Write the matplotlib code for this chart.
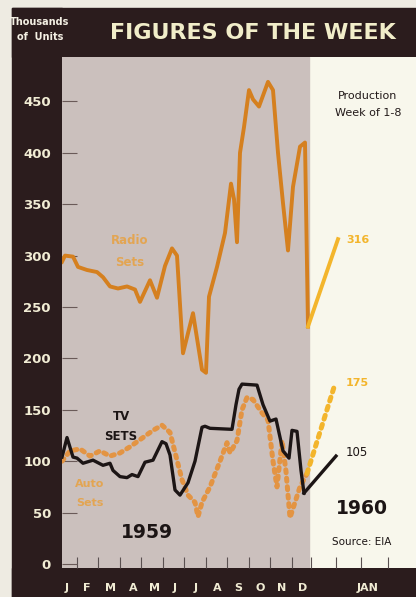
import matplotlib
matplotlib.use("Agg")
import matplotlib.pyplot as plt
from matplotlib.patches import Rectangle

# ========== Data (thousands of units, x = week number from Jan 1959) ==========
radio_weeks = [1, 1.6, 3.2, 4.2, 6, 8, 9.2, 10.6, 12.2, 14, 15.6, 16.6, 18.6, 20,
               21.6, 23, 24, 25.2, 27.2, 29, 29.8, 30.4, 32, 33.6, 34.8, 35.4, 36,
               36.6, 37.4, 38.4, 39.2, 40.4, 42.2, 43.2, 44.2, 45.2, 46.2, 47.2,
               48.6, 49.6, 50.2]
radio_vals = [294, 300, 299, 289, 286, 284, 279, 270, 268, 270, 267, 255, 276, 259,
              290, 307, 300, 205, 244, 189, 186, 260, 289, 322, 370, 355, 313,
              400, 425, 461, 452, 445, 469, 461, 400, 351, 305, 367,
              406, 410, 231]

tv_weeks = [1, 2, 3.2, 4, 5.2, 7.2, 9.2, 10.6, 11.2, 12.6, 14, 15, 16.2, 17.6, 19.2,
            21, 21.8, 22.6, 23.6, 24.6, 26.2, 27.6, 29, 29.6, 30.6, 35, 35.8, 36.4,
            37, 40, 41.2, 42.6, 43.8, 45.2, 46.4, 47, 48, 48.8, 49.4]
tv_vals = [104, 123, 104, 103, 98, 101, 96, 98, 91, 85, 84, 87, 85, 99, 101,
           119, 117, 106, 72, 67, 79, 100, 133, 134, 132, 131, 155, 170,
           175, 174, 155, 139, 141, 110, 103, 130, 129, 91, 69]

auto_weeks = [1, 2.6, 4.6, 6.6, 8.6, 10.6, 12.6, 14.6, 17.2, 19.2, 21, 22.6, 24, 25,
              26.2, 27.6, 28.2, 29, 30.6, 32.6, 34, 34.6, 36, 37, 38, 39.2, 41, 42.2,
              43.2, 44, 45, 45.8, 46.6, 48.6, 50]
auto_vals = [100, 110, 112, 105, 110, 105, 108, 114, 123, 130, 135, 128, 101, 82,
             67, 60, 46, 60, 75, 100, 118, 108, 120, 150, 162, 160, 147, 140,
             100, 75, 120, 90, 45, 75, 88]

# 1960 production week of 1-8
radio_1960 = 316
tv_1960 = 105
auto_1960 = 175
week_1960 = {"radio": 56.2, "tv": 55.8, "auto": 55.6}

month_labels = ["J", "F", "M", "A", "M", "J", "J", "A", "S", "O", "N", "D", "JAN"]
month_label_weeks = [2, 6, 10.6, 15.2, 19.6, 23.6, 27.8, 32, 36.2, 40.6, 45, 49.2, 62.2]
tick_weeks = [3.9, 8.2, 12.5, 16.8, 21.1, 25.4, 29.7, 34, 38.3, 42.6, 46.9, 50.8,
              55.8, 60.8, 66.2]
y_ticks = [0, 50, 100, 150, 200, 250, 300, 350, 400, 450]

# ========== Colours ==========
dark = "#2b1c1d"
cream = "#f8f7ec"
photo_grey = "#cbc0bd"
label_cream = "#f1ecd4"
radio_col = "#d5801f"
auto_col = "#e39443"
new_col = "#f3b52c"

W, H = 416, 597
fig = plt.figure(figsize=(W / 100, H / 100), dpi=100, facecolor="#eeebe2")


def fx(x):
    return x / W


def fy(y):
    return 1 - y / H


# dark frame: left bar, top banner, bottom band
for (x0, y0, x1, y1) in [(12, 8, 62, 597), (12, 8, 416, 57), (12, 568, 416, 597)]:
    fig.add_artist(Rectangle((fx(x0), fy(y1)), fx(x1) - fx(x0), fy(y0) - fy(y1),
                             transform=fig.transFigure, color=dark, zorder=-1))

ax = fig.add_axes([fx(62), fy(568), fx(416) - fx(62), fy(57) - fy(568)])
ax.set_facecolor(cream)
ax.set_xlim(1, 71.8)
ax.set_ylim(-3.9, 493.2)
for s in ax.spines.values():
    s.set_visible(False)

# grey "photo" panel for 1959
ax.axvspan(1, 50.4, color=photo_grey, zorder=0)

# ========== Series ==========
ax.plot(radio_weeks, radio_vals, color=radio_col, lw=2.8, solid_joinstyle="round", zorder=3)
ax.plot([radio_weeks[-1], week_1960["radio"]], [radio_vals[-1], radio_1960],
        color=new_col, lw=2.8, zorder=3)

ax.plot(auto_weeks, auto_vals, color=auto_col, lw=3.6, linestyle=(0, (0.6, 1.1)),
        dash_capstyle="round", zorder=2)
ax.plot([auto_weeks[-1], week_1960["auto"]], [auto_vals[-1], auto_1960],
        color=new_col, lw=3.6, linestyle=(0, (0.8, 1.1)), dash_capstyle="round", zorder=2)

ax.plot(tv_weeks, tv_vals, color="#1c1515", lw=2.4, zorder=4)
ax.plot([tv_weeks[-1], week_1960["tv"]], [tv_vals[-1], tv_1960],
        color="#1c1515", lw=2.4, zorder=4)

# ========== Axes ticks ==========
ax.set_yticks(y_ticks)
ax.set_yticklabels([str(v) for v in y_ticks])
ax.tick_params(axis="y", direction="in", length=11, width=0.8, color="#6a5a58",
               pad=8, labelsize=9.5, labelcolor=label_cream)
for t in ax.get_yticklabels():
    t.set_fontweight("bold")

ax.set_xticks(month_label_weeks)
ax.set_xticklabels(month_labels)
ax.set_xticks(tick_weeks, minor=True)
ax.tick_params(axis="x", which="major", length=0, pad=11, labelsize=8,
               labelcolor=label_cream)
ax.tick_params(axis="x", which="minor", direction="in", length=8, width=0.8,
               color="#5a5050")
for t in ax.get_xticklabels():
    t.set_fontweight("bold")

# ========== Texts ==========
fig.text(fx(253), fy(33), "FIGURES OF THE WEEK", color="#f1edc9", fontsize=16,
         fontweight="bold", ha="center", va="center")
fig.text(fx(40), fy(22), "Thousands", color="#f4f0e4", fontsize=7, fontweight="bold",
         ha="center", va="center")
fig.text(fx(40), fy(37), "of  Units", color="#f4f0e4", fontsize=7, fontweight="bold",
         ha="center", va="center")

fig.text(fx(368), fy(96), "Production", fontsize=8, ha="center", va="center", color="#231a1a")
fig.text(fx(368), fy(113), "Week of 1-8", fontsize=8, ha="center", va="center", color="#231a1a")

fig.text(fx(130), fy(241), "Radio", fontsize=8.5, fontweight="bold", color="#e3a552",
         ha="center", va="center")
fig.text(fx(130), fy(263), "Sets", fontsize=8.5, fontweight="bold", color="#e3a552",
         ha="center", va="center")
fig.text(fx(121), fy(416), "TV", fontsize=8.5, fontweight="bold", color="#1c1515",
         ha="center", va="center")
fig.text(fx(121), fy(437), "SETS", fontsize=8.5, fontweight="bold", color="#1c1515",
         ha="center", va="center")
fig.text(fx(90), fy(484), "Auto", fontsize=8, fontweight="bold", color="#e3a552",
         ha="center", va="center")
fig.text(fx(90), fy(503), "Sets", fontsize=8, fontweight="bold", color="#e3a552",
         ha="center", va="center")

fig.text(fx(147), fy(532), "1959", fontsize=13.5, fontweight="bold", color="#1c1515",
         ha="center", va="center")
fig.text(fx(362), fy(509), "1960", fontsize=13.5, fontweight="bold", color="#1c1515",
         ha="center", va="center")
fig.text(fx(362), fy(542), "Source: EIA", fontsize=7.5, color="#1c1515",
         ha="center", va="center")

fig.text(fx(358), fy(240), str(radio_1960), fontsize=8, fontweight="bold", color=new_col,
         ha="center", va="center")
fig.text(fx(357), fy(383), str(auto_1960), fontsize=8, fontweight="bold", color=new_col,
         ha="center", va="center")
fig.text(fx(357), fy(452), str(tv_1960), fontsize=8.5, color="#1c1515",
         ha="center", va="center")

plt.savefig("out.png", dpi=100, facecolor=fig.get_facecolor())
plt.close()
print("Saved: out.png")
